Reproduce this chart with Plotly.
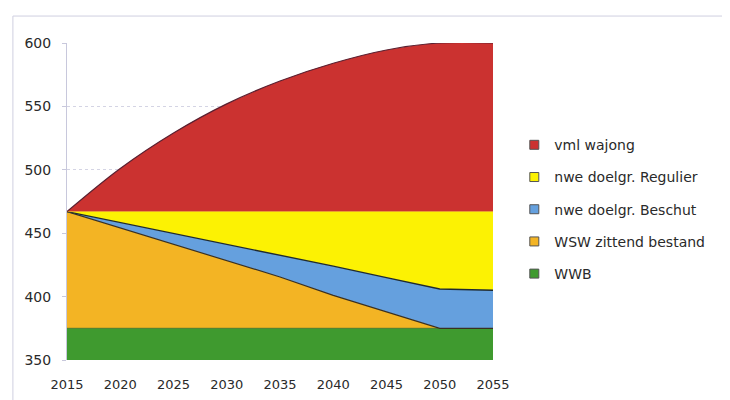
import plotly.graph_objects as go

years = [2015, 2020, 2025, 2030, 2035, 2040, 2045, 2050, 2055]
wwb = [375, 375, 375, 375, 375, 375, 375, 375, 375]
wsw_zittend = [92, 79, 66, 53, 40.5, 26, 13, 0, 0]
nwe_beschut = [0, 4.5, 9, 13, 17, 23, 27, 31, 30]
nwe_regulier = [0, 8.5, 17, 26, 34.5, 43, 52, 61, 62]
vml_wajong = [0, 34, 62, 85, 103, 117, 127.5, 133, 133]

y_ticks = [350, 400, 450, 500, 550, 600]
x_ticks = [2015, 2020, 2025, 2030, 2035, 2040, 2045, 2050, 2055]

series = [
    ("WWB", wwb, "#3F9A2F", "#2f6a22", 0.8, "linear"),
    ("WSW zittend bestand", wsw_zittend, "#F3B424", "#3a3020", 1.2, "linear"),
    ("nwe doelgr. Beschut", nwe_beschut, "#65A0DE", "#1f2a30", 1.4, "linear"),
    ("nwe doelgr. Regulier", nwe_regulier, "#FCF203", "#FCF203", 0.5, "linear"),
    ("vml wajong", vml_wajong, "#CB3230", "#5a2030", 1.2, "spline"),
]

fig = go.Figure()
for name, vals, fill, line, lw, shape in series:
    fig.add_trace(go.Scatter(
        x=years, y=vals, name=name, stackgroup="s", mode="lines",
        fillcolor=fill, line=dict(color=line, width=lw, shape=shape, smoothing=1.0),
        showlegend=False, hoverinfo="skip",
    ))

# legend entries (square swatches), top-to-bottom order
for i, (name, vals, fill, line, lw, shape) in enumerate(reversed(series)):
    fig.add_trace(go.Scatter(
        x=[None], y=[None], name=name, mode="markers",
        marker=dict(symbol="square", size=9, color=fill,
                    line=dict(color="#555555", width=1)),
        legendgroup="g%d" % i, showlegend=True,
    ))

fig.update_layout(
    width=730, height=400,
    margin=dict(l=59, r=245, t=35, b=48),
    paper_bgcolor="white", plot_bgcolor="white",
    font=dict(family="DejaVu Sans", size=13, color="#2a2a2a"),
    showlegend=True,
    legend=dict(
        x=1.05, y=0.728, xanchor="left", yanchor="top",
        traceorder="grouped", tracegroupgap=11,
        font=dict(family="DejaVu Sans", size=14, color="#2a2a2a"),
        bgcolor="rgba(0,0,0,0)",
    ),
    xaxis=dict(
        range=[2015, 2055], tickvals=x_ticks, ticktext=[str(v) for v in x_ticks],
        showgrid=False, zeroline=False, showline=False,
        ticks="", ticklabelstandoff=15,
    ),
    yaxis=dict(
        range=[350, 600], tickvals=y_ticks, ticktext=[str(v) for v in y_ticks],
        tickfont=dict(size=14),
        showgrid=True, gridcolor="#d4d4e4", griddash="dot", gridwidth=1,
        zeroline=False, showline=True, linecolor="#c8c8dc", linewidth=1,
        ticks="outside", ticklen=4, tickcolor="#c8c8dc",
        ticklabelstandoff=8,
    ),
    shapes=[
        dict(type="line", xref="paper", yref="paper", x0=-0.127, x1=1.6,
             y0=1.085, y1=1.085, line=dict(color="#cfcfe0", width=1)),
        dict(type="line", xref="paper", yref="paper", x0=-0.127, x1=-0.127,
             y0=1.085, y1=-0.2, line=dict(color="#cfcfe0", width=1)),
    ],
)

fig.write_html("out.html")
